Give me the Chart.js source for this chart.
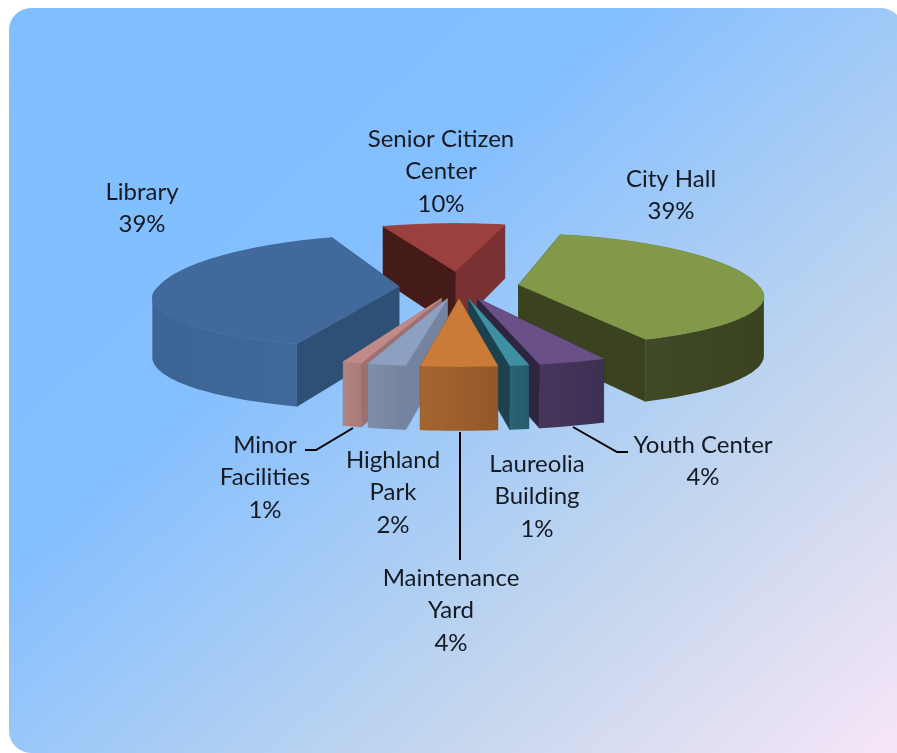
<!DOCTYPE html>
<html>
<head>
<meta charset="utf-8">
<title>Energy use by facility</title>
<script src="https://cdn.jsdelivr.net/npm/chart.js@4"></script>
<style>
    html, body { margin: 0; padding: 0; background: #fff; overflow: hidden; width: 897px; height: 753px; }
    #panel {
        position: absolute; left: 9px; top: 8px; width: 894px; height: 745px;
        border-radius: 22px 22px 0 22px;
        background: linear-gradient(138deg, #80bfff 0%, #84bfff 36%, #c3d6ee 72%, #f8e6f8 100%);
    }
    #chart { position: absolute; left: 0; top: 0; }
</style>
</head>
<body>
<div id="panel"></div>
<canvas id="chart" width="897" height="753"></canvas>
<script>
// Clockwise from the slice at the back of the pie. Labels show them rounded
const categories = ['Senior Citizen Center', 'City Hall', 'Youth Center', 'Laureolia Building', 'Maintenance Yard', 'Highland Park', 'Minor Facilities', 'Library'];
const shares = [10, 39.4, 3.6, 1, 4, 2, 1, 39];

const topColors = ['#9b403e', '#82994a', '#6a5086', '#3f8fa3', '#c97b37', '#8ca0c1', '#bf8a88', '#41699b'];
const wallLeftColors = ['#7a3131', '#46502a', '#46365c', '#286473', '#a56530', '#7f8fab', '#b08280', '#3c6595'];
const wallRightColors = ['#7a3131', '#3a4220', '#3e3052', '#255c6b', '#925829', '#73829c', '#a87a78', '#3f6a9c'];
const startCutColors = ['#441b18', '#3a4220', '#2e2540', '#1c4150', '#6e4420', '#7483a0', '#9c7070', '#2f5075'];
const endCutColors = ['#7a3131', '#3a4220', '#2e2540', '#1c4150', '#6e4420', '#7483a0', '#9c7070', '#2f5075'];

const labelLines = [
    ['Senior Citizen', 'Center', '10%'],
    ['City Hall', '39%'],
    ['Youth Center', '4%'],
    ['Laureolia', 'Building', '1%'],
    ['Maintenance', 'Yard', '4%'],
    ['Highland', 'Park', '2%'],
    ['Minor', 'Facilities', '1%'],
    ['Library', '39%']
];
const labelX = [441, 671, 703, 537, 451, 393, 265, 142];
const labelTopY = [139, 179, 445, 464, 578, 460, 445, 192];
const leaderLines = [
    [[305, 450], [316, 450], [353, 428]],
    [[460, 432], [460, 560]],
    [[573, 427], [617, 452], [628, 452]]
];

// Camera used to turn the flat arcs into a tilted pie
const focal = 1330;
const tiltBack = 0.255;
const tiltFront = 0.208;
const wallHeight = 58;

function project(arc, wx, wy) {
    const s = focal / (focal - wy);
    const v = wy * s;
    return {
        x: arc.x + wx * s,
        y: arc.y + v * (v < 0 ? tiltBack : tiltFront),
        h: wallHeight * Math.pow(s, 0.4)
    };
}

function slicePoints(arc) {
    const offset = (arc.options.offset || 0) / 4;
    const mid = (arc.startAngle + arc.endAngle) / 2;
    const ox = Math.cos(mid) * offset;
    const oy = Math.sin(mid) * offset;
    const steps = Math.max(2, Math.ceil((arc.endAngle - arc.startAngle) / 0.03));
    const rim = [];
    for (let i = 0; i <= steps; i++) {
        const a = arc.startAngle + (arc.endAngle - arc.startAngle) * i / steps;
        rim.push(project(arc, ox + Math.cos(a) * arc.outerRadius, oy + Math.sin(a) * arc.outerRadius));
    }
    return { apex: project(arc, ox, oy), rim: rim, depth: oy };
}

function fillPath(ctx, points, color) {
    ctx.fillStyle = color;
    ctx.strokeStyle = color;
    ctx.lineWidth = 0.6;
    ctx.beginPath();
    points.forEach((p, i) => i ? ctx.lineTo(p[0], p[1]) : ctx.moveTo(p[0], p[1]));
    ctx.closePath();
    ctx.fill();
    ctx.stroke();
}

function wallQuad(a, b) {
    return [[a.x, a.y], [b.x, b.y], [b.x, b.y + b.h], [a.x, a.y + a.h]];
}

function drawOuterWall(ctx, rim, index) {
    const xs = rim.map(p => p.x);
    const grad = ctx.createLinearGradient(Math.min(...xs), 0, Math.max(...xs), 0);
    grad.addColorStop(0, wallLeftColors[index]);
    grad.addColorStop(1, wallRightColors[index]);
    ctx.fillStyle = grad;
    ctx.beginPath();
    // one path of strips, all wound the same way, so the strips leave no seams or holes
    for (let i = 0; i < rim.length - 1; i++) {
        const a = rim[i].x <= rim[i + 1].x ? rim[i] : rim[i + 1];
        const b = rim[i].x <= rim[i + 1].x ? rim[i + 1] : rim[i];
        ctx.moveTo(a.x, a.y);
        ctx.lineTo(b.x, b.y);
        ctx.lineTo(b.x, b.y + b.h);
        ctx.lineTo(a.x, a.y + a.h);
        ctx.closePath();
    }
    ctx.fill();
}

function drawSlice(ctx, arc, index) {
    const shape = slicePoints(arc);
    const rim = shape.rim;
    const last = rim[rim.length - 1];
    const meanRimY = rim.reduce((sum, p) => sum + p.y, 0) / rim.length;

    // outer wall goes first when the slice points away from the viewer
    if (meanRimY < shape.apex.y) {
        drawOuterWall(ctx, rim, index);
    }
    const cuts = [
        { quad: wallQuad(shape.apex, rim[0]), color: startCutColors[index], y: rim[0].y },
        { quad: wallQuad(shape.apex, last), color: endCutColors[index], y: last.y }
    ];
    cuts.sort((a, b) => a.y - b.y);
    cuts.forEach(c => fillPath(ctx, c.quad, c.color));
    if (meanRimY >= shape.apex.y) {
        drawOuterWall(ctx, rim, index);
    }

    const top = [[shape.apex.x, shape.apex.y]].concat(rim.map(p => [p.x, p.y]));
    fillPath(ctx, top, arc.options.backgroundColor);
}

const pie3dPlugin = {
    id: 'pie3d',
    beforeDatasetsDraw(chart) {
        const ctx = chart.ctx;
        const arcs = chart.getDatasetMeta(0).data.map((arc, i) => ({ arc: arc, index: i }));
        arcs.sort((a, b) => slicePoints(a.arc).depth - slicePoints(b.arc).depth);
        ctx.save();
        arcs.forEach(item => drawSlice(ctx, item.arc, item.index));
        ctx.restore();
        return false;
    },
    afterDraw(chart) {
        const ctx = chart.ctx;
        ctx.save();
        ctx.strokeStyle = '#000';
        ctx.lineWidth = 2;
        leaderLines.forEach(line => {
            ctx.beginPath();
            line.forEach((p, i) => i ? ctx.lineTo(p[0], p[1]) : ctx.moveTo(p[0], p[1]));
            ctx.stroke();
        });
        ctx.fillStyle = '#141a22';
        ctx.font = '24px Lato';
        ctx.textAlign = 'center';
        ctx.textBaseline = 'middle';
        labelLines.forEach((lines, i) => {
            lines.forEach((text, j) => ctx.fillText(text, labelX[i], labelTopY[i] + j * 32.5));
        });
        ctx.restore();
    }
};

new Chart(document.getElementById('chart'), {
    type: 'pie',
    data: {
        labels: categories,
        datasets: [{
            data: shares,
            backgroundColor: topColors,
            borderWidth: 0,
            offset: 240
        }]
    },
    options: {
        responsive: false,
        animation: false,
        rotation: -21.6,
        radius: 240,
        layout: { padding: { left: 21, bottom: 181 } },
        plugins: { legend: { display: false }, tooltip: { enabled: false } }
    },
    plugins: [pie3dPlugin]
});
</script>
</body>
</html>
